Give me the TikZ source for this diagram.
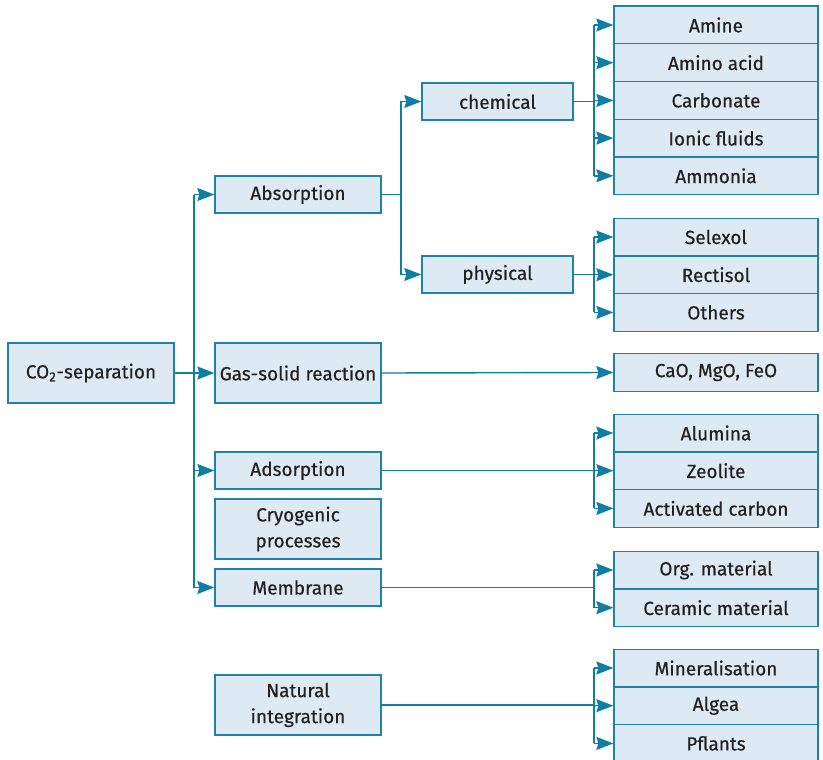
\documentclass[tikz,border=0pt]{standalone}
\usepackage{fontspec}
\setmainfont{Fira Sans}[FakeBold=0.5]
\usetikzlibrary{arrows.meta,calc}
\definecolor{boxfill}{HTML}{DDEAF4}
\definecolor{boxline}{HTML}{1F82AA}
\definecolor{arrowc}{HTML}{107DA4}
\definecolor{txt}{HTML}{222222}
\tikzset{
  box/.style={draw=boxline, fill=boxfill, line width=1.3pt, rectangle, align=center,
    text=txt, font=\fontsize{19}{26}\selectfont, inner sep=0pt},
  midbox/.style={box, minimum width=166pt},
  shortbox/.style={minimum height=37pt},
  tallbox/.style={minimum height=60pt},
  leafbox/.style={box, minimum width=204pt, minimum height=37.7pt},
  conn/.style={draw=arrowc, line width=1.4pt},
  arr/.style={conn, >={Stealth[length=17pt,width=13pt,inset=2pt]}, ->},
}
\begin{document}
\begin{tikzpicture}[x=1pt,y=-1pt]
\useasboundingbox (0,0) rectangle (823,760);
% left
\node[box, minimum width=166pt, tallbox] (co2) at (91,373) {CO\textsubscript{2}-separation};
% middle column
\node[midbox, shortbox] (abs) at (298,194.5) {Absorption};
\node[midbox, tallbox] (gas) at (298,373) {Gas-solid reaction};
\node[midbox, shortbox] (ads) at (298,470.5) {Adsorption};
\node[midbox, tallbox] (cry) at (298,529) {Cryogenic\\processes};
\node[midbox, shortbox] (mem) at (298,587.5) {Membrane};
\node[midbox, tallbox] (nat) at (298,705) {Natural\\integration};
% second level
\node[box, minimum width=151pt, shortbox] (chem) at (497.5,101.5) {chemical};
\node[box, minimum width=151pt, shortbox] (phys) at (497.5,274.5) {physical};
% leaves
\node[leafbox] (amine) at (716,25) {Amine};
\node[leafbox] (amino) at (716,62.7) {Amino acid};
\node[leafbox] (carb) at (716,100.4) {Carbonate};
\node[leafbox] (ionic) at (716,138.1) {Ionic fluids};
\node[leafbox] (ammo) at (716,175.8) {Ammonia};
\node[leafbox] (sel) at (716,237) {Selexol};
\node[leafbox] (rect) at (716,274.7) {Rectisol};
\node[leafbox] (oth) at (716,312.4) {Others};
\node[leafbox] (cao) at (716,372.5) {CaO, MgO, FeO};
\node[leafbox] (alu) at (716,433) {Alumina};
\node[leafbox] (zeo) at (716,470.7) {Zeolite};
\node[leafbox] (act) at (716,508.4) {Activated carbon};
\node[leafbox] (org) at (716,570) {Org. material};
\node[leafbox] (cer) at (716,607.7) {Ceramic material};
\node[leafbox] (min) at (716,668) {Mineralisation};
\node[leafbox] (alg) at (716,705.7) {Algea};
\node[leafbox] (pfl) at (716,743.4) {Pflants};
% junction columns
\coordinate (j1) at (194,0);
\coordinate (j2) at (401,0);
\coordinate (j3) at (594,0);
% level 1
\draw[arr] (co2.east) -- (gas.west);
\draw[conn] (j1 |- abs.west) -- (j1 |- mem.west);
\draw[arr] (j1 |- abs.west) -- (abs.west);
\draw[arr] (j1 |- ads.west) -- (ads.west);
\draw[arr] (j1 |- mem.west) -- (mem.west);
% absorption
\draw[conn] (abs.east) -- (j2 |- abs.east);
\draw[conn] (j2 |- chem.west) -- (j2 |- phys.west);
\draw[arr] (j2 |- chem.west) -- (chem.west);
\draw[arr] (j2 |- phys.west) -- (phys.west);
% chemical
\draw[conn] (chem.east) -- (j3 |- chem.east);
\draw[conn] (j3 |- amine.west) -- (j3 |- ammo.west);
\foreach \n in {amine,amino,carb,ionic,ammo} \draw[arr] (j3 |- \n.west) -- (\n.west);
% physical
\draw[conn] (phys.east) -- (j3 |- phys.east);
\draw[conn] (j3 |- sel.west) -- (j3 |- oth.west);
\foreach \n in {sel,rect,oth} \draw[arr] (j3 |- \n.west) -- (\n.west);
% gas-solid
\draw[arr] (gas.east) -- (cao.west);
% adsorption
\draw[conn] (ads.east) -- (j3 |- ads.east);
\draw[conn] (j3 |- alu.west) -- (j3 |- act.west);
\foreach \n in {alu,zeo,act} \draw[arr] (j3 |- \n.west) -- (\n.west);
% membrane
\draw[conn] (mem.east) -- (j3 |- mem.east);
\draw[conn] (j3 |- org.west) -- (j3 |- cer.west);
\foreach \n in {org,cer} \draw[arr] (j3 |- \n.west) -- (\n.west);
% natural integration
\draw[conn] (nat.east) -- (j3 |- nat.east);
\draw[conn] (j3 |- min.west) -- (j3 |- pfl.west);
\foreach \n in {min,alg,pfl} \draw[arr] (j3 |- \n.west) -- (\n.west);
\end{tikzpicture}
\end{document}
